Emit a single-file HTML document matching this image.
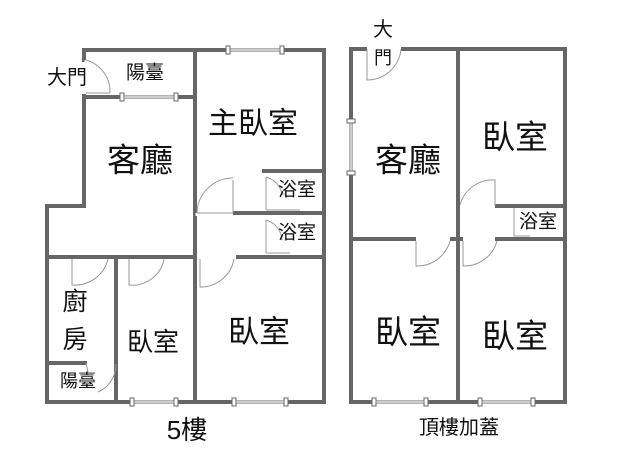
<!DOCTYPE html>
<html><head><meta charset="utf-8"><style>
body{margin:0;background:#fff}
svg{display:block}
text{font-family:"Liberation Sans","Noto Sans CJK TC",sans-serif;fill:#111;text-anchor:middle;dominant-baseline:central}
</style></head><body>
<svg width="640" height="461" viewBox="0 0 640 461" xmlns="http://www.w3.org/2000/svg">
<g stroke="#666" stroke-width="4" fill="none" stroke-linecap="square">
<!-- left plan -->
<path d="M84 60 V50 H324 V402 H47 V206 H84 V96"/>
<path d="M84 97 H195"/>
<path d="M195 50 V402"/>
<path d="M264 171 H324"/>
<path d="M235 213 H324"/>
<path d="M238 257 H324"/>
<path d="M47 257 H195"/>
<path d="M116 257 V402"/>
<path d="M47 363 H85"/>
<!-- right plan -->
<path d="M365 49 H351 V402 H565 V49 H403"/>
<path d="M458 49 V402"/>
<path d="M351 239 H414 M452 239 H461 M497 239 H565"/>
<path d="M497 206 H565"/>
</g>
<g stroke="#fff" stroke-width="3">
<path d="M228 50 H282 M122 97 H176 M132 402 H176 M234 402 H286 M86 60 V93 M197 213 V216"/>
<path d="M374 402 H426 M480 402 H533 M351 121 V173"/>
<path d="M238 213 V213"/>
</g>
<g stroke="#666" stroke-width="1" fill="#fff">
<rect x="226" y="46" width="4" height="8"/><rect x="280" y="46" width="4" height="8"/>
<rect x="120" y="93" width="4" height="8"/><rect x="174" y="93" width="4" height="8"/>
<rect x="130" y="398" width="4" height="8"/><rect x="174" y="398" width="4" height="8"/>
<rect x="232" y="398" width="4" height="8"/><rect x="284" y="398" width="4" height="8"/>
<rect x="372" y="398" width="4" height="8"/><rect x="424" y="398" width="4" height="8"/>
<rect x="478" y="398" width="4" height="8"/><rect x="531" y="398" width="4" height="8"/>
<rect x="347" y="119" width="8" height="4"/><rect x="347" y="171" width="8" height="4"/>
</g>
<g stroke="#999" stroke-width="1" fill="none">
<line x1="230" y1="50" x2="280" y2="50"/><line x1="124" y1="97" x2="174" y2="97"/>
<line x1="134" y1="402" x2="174" y2="402"/><line x1="236" y1="402" x2="284" y2="402"/>
<line x1="376" y1="402" x2="424" y2="402"/><line x1="482" y1="402" x2="531" y2="402"/>
<line x1="351" y1="123" x2="351" y2="171"/>
<!-- doors -->
<path d="M86 60 A33 33 0 0 1 110 93 M86 93 H110"/>
<path d="M233 180 V213 M197 213 A36 36 0 0 1 233 178 M197 213 H233"/>
<path d="M266 177 A22 22 0 0 1 282 194 L285 194 M266 177 V210 M266 210 H300"/>
<path d="M266 220 A22 22 0 0 1 282 240 M266 220 V253 M266 253 H290"/>
<path d="M72 259 V285 A34 34 0 0 0 108 259"/>
<path d="M129 259 V285 A32 32 0 0 0 164 259"/>
<path d="M200 259 V287 A34 34 0 0 0 234 259"/>
<path d="M116 364 A30 30 0 0 1 98 392 M86 363 L88 372"/>
<path d="M367 49 V80 A34 34 0 0 0 401 49"/>
<path d="M460 205 A34 34 0 0 1 495 180 V206"/>
<path d="M514 208 V236 H530"/>
<path d="M416 241 V266 A34 34 0 0 0 450 241"/>
<path d="M463 241 V266 A34 34 0 0 0 497 241"/>
</g>
<text x="67" y="78" font-size="20">大門</text>
<text x="145" y="73" font-size="19">陽臺</text>
<text x="253" y="124" font-size="30">主臥室</text>
<text x="140" y="160" font-size="33">客廳</text>
<text x="297" y="190" font-size="19">浴室</text>
<text x="297" y="233" font-size="19">浴室</text>
<text x="75" y="302" font-size="25">廚</text>
<text x="75" y="340" font-size="25">房</text>
<text x="78" y="381" font-size="18">陽臺</text>
<text x="153" y="342" font-size="26">臥室</text>
<text x="259" y="332" font-size="31">臥室</text>
<text x="187" y="430" font-size="26">5樓</text>
<text x="383" y="30" font-size="20">大</text>
<text x="383" y="58" font-size="18">門</text>
<text x="408" y="160" font-size="33">客廳</text>
<text x="515" y="137" font-size="33">臥室</text>
<text x="538" y="222" font-size="19">浴室</text>
<text x="408" y="332" font-size="33">臥室</text>
<text x="515" y="336" font-size="33">臥室</text>
<text x="459" y="428" font-size="20">頂樓加蓋</text>
</svg>
</body></html>
